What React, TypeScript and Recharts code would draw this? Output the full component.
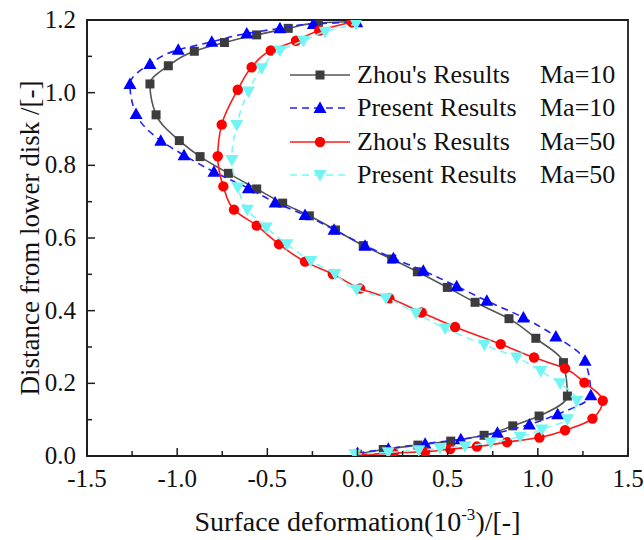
import React from 'react'
import { ScatterChart, Scatter, XAxis, YAxis, Label, ReferenceArea } from 'recharts'

// [x (surface deformation, 1e-3), y (distance from lower disk)] from bottom to top
const zhouMa10: [number, number][] = [
  [0.0, 0.005], [0.143, 0.018], [0.335, 0.03], [0.517, 0.041], [0.702, 0.057], [0.861, 0.083],
  [1.007, 0.11], [1.164, 0.165], [1.142, 0.257], [0.989, 0.324], [0.84, 0.378], [0.652, 0.423],
  [0.498, 0.464], [0.332, 0.507], [0.19, 0.542], [0.032, 0.579], [-0.122, 0.622], [-0.267, 0.661],
  [-0.415, 0.696], [-0.559, 0.735], [-0.716, 0.778], [-0.873, 0.824], [-0.988, 0.868], [-1.117, 0.939],
  [-1.151, 1.024], [-1.049, 1.074], [-0.905, 1.114], [-0.738, 1.138], [-0.559, 1.159], [-0.384, 1.177],
  [-0.217, 1.192], [-0.014, 1.196],
]

const presentMa10: [number, number][] = [
  [0.0, 0.008], [0.171, 0.02], [0.375, 0.034], [0.573, 0.046], [0.776, 0.064], [0.953, 0.087],
  [1.11, 0.115], [1.294, 0.167], [1.262, 0.262], [1.1, 0.329], [0.92, 0.381], [0.717, 0.427],
  [0.55, 0.467], [0.365, 0.51], [0.199, 0.544], [0.042, 0.579], [-0.13, 0.623], [-0.291, 0.663],
  [-0.457, 0.698], [-0.605, 0.737], [-0.796, 0.782], [-0.962, 0.828], [-1.091, 0.868], [-1.228, 0.941],
  [-1.262, 1.024], [-1.151, 1.079], [-0.994, 1.118], [-0.808, 1.14], [-0.614, 1.163], [-0.43, 1.177],
  [-0.245, 1.189], [-0.004, 1.194],
]

const zhouMa50: [number, number][] = [
  [0.0, 0.003], [0.2, 0.008], [0.375, 0.012], [0.514, 0.019], [0.662, 0.026], [0.829, 0.038],
  [1.009, 0.051], [1.151, 0.071], [1.303, 0.103], [1.36, 0.152], [1.258, 0.202], [1.151, 0.241],
  [0.979, 0.271], [0.794, 0.308], [0.541, 0.355], [0.356, 0.395], [0.177, 0.434], [0.014, 0.461],
  [-0.137, 0.501], [-0.291, 0.535], [-0.435, 0.583], [-0.559, 0.634], [-0.685, 0.678], [-0.744, 0.742],
  [-0.775, 0.825], [-0.753, 0.912], [-0.664, 1.008], [-0.587, 1.07], [-0.481, 1.116], [-0.341, 1.143],
  [-0.212, 1.171], [-0.032, 1.194],
]

const presentMa50: [number, number][] = [
  [-0.014, 0.005], [0.17, 0.01], [0.34, 0.016], [0.458, 0.021], [0.596, 0.027], [0.739, 0.037],
  [0.902, 0.053], [1.022, 0.073], [1.164, 0.101], [1.216, 0.152], [1.124, 0.2], [1.016, 0.234],
  [0.883, 0.271], [0.704, 0.306], [0.486, 0.351], [0.325, 0.393], [0.158, 0.434], [-0.005, 0.458],
  [-0.125, 0.501], [-0.259, 0.537], [-0.392, 0.583], [-0.507, 0.629], [-0.611, 0.678], [-0.664, 0.739],
  [-0.697, 0.815], [-0.67, 0.911], [-0.605, 1.003], [-0.531, 1.067], [-0.43, 1.116], [-0.3, 1.143],
  [-0.18, 1.168], [-0.008, 1.189],
]

const xTicks = [-1.5, -1.25, -1, -0.75, -0.5, -0.25, 0, 0.25, 0.5, 0.75, 1, 1.25, 1.5]
const yTicks = [0, 0.1, 0.2, 0.3, 0.4, 0.5, 0.6, 0.7, 0.8, 0.9, 1.0, 1.1, 1.2]

const FONT = '"Liberation Serif", "Times New Roman", serif'
const AXIS = '#1e1e1e'

const toPoints = (arr: [number, number][]) => arr.map(([x, y]) => ({ x, y }))

type MarkerKind = 'square' | 'triangle' | 'circle' | 'down'

const Marker = ({ cx, cy, kind, color }: { cx: number; cy: number; kind: MarkerKind; color: string }) => {
  if (kind === 'square') return <rect x={cx - 4.5} y={cy - 4.5} width={9} height={9} fill={color} />
  if (kind === 'circle') return <circle cx={cx} cy={cy} r={5.2} fill={color} />
  if (kind === 'triangle')
    return <polygon points={`${cx},${cy - 6.5} ${cx + 6.5},${cy + 5} ${cx - 6.5},${cy + 5}`} fill={color} />
  return <polygon points={`${cx},${cy + 6.5} ${cx + 6.5},${cy - 5} ${cx - 6.5},${cy - 5}`} fill={color} />
}

const series = [
  { name: "Zhou's Results", ma: 'Ma=10', data: zhouMa10, kind: 'square' as MarkerKind, marker: '#3c3c3c', line: '#555555', dash: undefined },
  { name: 'Present Results', ma: 'Ma=10', data: presentMa10, kind: 'triangle' as MarkerKind, marker: '#0000ff', line: '#2020ff', dash: '7 5' },
  { name: "Zhou's Results", ma: 'Ma=50', data: zhouMa50, kind: 'circle' as MarkerKind, marker: '#ff0000', line: '#ff1a1a', dash: undefined },
  { name: 'Present Results', ma: 'Ma=50', data: presentMa50, kind: 'down' as MarkerKind, marker: '#70f4f4', line: '#80f6f6', dash: '7 5' },
]

const XTick = (props: any) => {
  const { x, y, payload } = props
  const v = payload.value as number
  const major = Math.abs(v * 2 - Math.round(v * 2)) < 1e-6
  return (
    <g>
      <line x1={x} x2={x} y1={y} y2={y - (major ? 8 : 5)} stroke={AXIS} strokeWidth={1.5} />
      {major && (
        <text x={x} y={y + 31} textAnchor="middle" fontFamily={FONT} fontSize={25} fill="#111">
          {v.toFixed(1)}
        </text>
      )}
    </g>
  )
}

const YTick = (props: any) => {
  const { x, y, payload } = props
  const v = payload.value as number
  const major = Math.abs(v * 5 - Math.round(v * 5)) < 1e-6
  return (
    <g>
      <line x1={x} x2={x + (major ? 8 : 5)} y1={y} y2={y} stroke={AXIS} strokeWidth={1.5} />
      {major && (
        <text x={x - 11} y={y + 8} textAnchor="end" fontFamily={FONT} fontSize={25} fill="#111">
          {v.toFixed(1)}
        </text>
      )}
    </g>
  )
}

const LegendBox = () => (
  <div style={{ position: 'absolute', left: 288, top: 58, fontFamily: FONT, fontSize: 26, color: '#111', lineHeight: 1 }}>
    {series.map((s, i) => (
      <div key={i} style={{ display: 'flex', alignItems: 'center', height: 33.5, whiteSpace: 'nowrap' }}>
        <svg width={64} height={20} style={{ display: 'block' }}>
          <line x1={2} x2={62} y1={10} y2={10} stroke={s.line} strokeWidth={1.6} strokeDasharray={s.dash} />
          <Marker cx={32} cy={10} kind={s.kind} color={s.marker} />
        </svg>
        <span style={{ marginLeft: 5, width: 183, display: 'inline-block', fontFamily: FONT }}>{s.name}</span>
        <span style={{ fontFamily: FONT }}>{s.ma}</span>
      </div>
    ))}
  </div>
)

export default function App() {
  return (
    <div style={{ position: 'absolute', left: 0, top: 0, width: 644, height: 540, background: '#fff' }}>
      <ScatterChart width={644} height={540} margin={{ top: 20, right: 16, bottom: 0, left: 0 }}>
        <XAxis
          type="number"
          dataKey="x"
          domain={[-1.5, 1.5]}
          ticks={xTicks}
          interval={0}
          height={84}
          tick={<XTick />}
          tickLine={false}
          tickSize={0}
          tickMargin={0}
          axisLine={{ stroke: AXIS, strokeWidth: 1.8 }}
          allowDataOverflow
        >
          <Label
            content={(p: any) => {
              const vb = p.viewBox
              return (
                <text x={vb.x + vb.width / 2} y={vb.y + 75} textAnchor="middle" fontFamily={FONT} fontSize={28} fill="#111">
                  Surface deformation(10
                  <tspan dy={-11} fontSize={17}>-3</tspan>
                  <tspan dy={11}>)/[-]</tspan>
                </text>
              )
            }}
          />
        </XAxis>
        <YAxis
          type="number"
          dataKey="y"
          domain={[0, 1.2]}
          ticks={yTicks}
          interval={0}
          width={87}
          tick={<YTick />}
          tickLine={false}
          tickSize={0}
          tickMargin={0}
          axisLine={{ stroke: AXIS, strokeWidth: 1.8 }}
          allowDataOverflow
        >
          <Label
            content={(p: any) => {
              const vb = p.viewBox
              const cx = 30
              const cy = vb.y + vb.height / 2
              return (
                <text x={cx} y={cy} dy="0.35em" textAnchor="middle" transform={`rotate(-90 ${cx} ${cy})`} fontFamily={FONT} fontSize={27} fill="#111">
                  Distance from lower disk /[-]
                </text>
              )
            }}
          />
        </YAxis>
        <ReferenceArea x1={-1.5} x2={1.5} y1={0} y2={1.2} fill="none" fillOpacity={0} stroke={AXIS} strokeWidth={1.8} />
        {series.map((s, i) => (
          <Scatter
            key={i}
            name={`${s.name} ${s.ma}`}
            data={toPoints(s.data)}
            fill={s.marker}
            line={{ stroke: s.line, strokeWidth: 1.6, strokeDasharray: s.dash }}
            lineJointType="monotoneY"
            shape={(p: any) => <Marker cx={p.cx} cy={p.cy} kind={s.kind} color={s.marker} />}
            isAnimationActive={false}
          />
        ))}
      </ScatterChart>
      <LegendBox />
    </div>
  )
}
